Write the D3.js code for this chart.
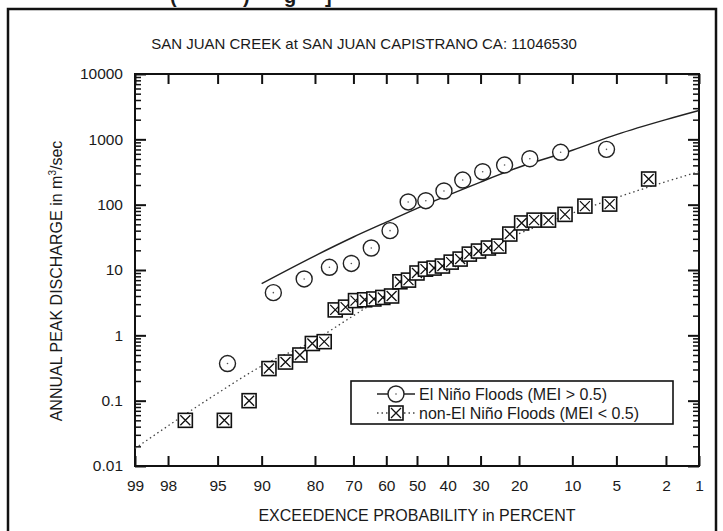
<!DOCTYPE html>
<html>
<head>
<meta charset="utf-8">
<script src="https://cdn.jsdelivr.net/npm/d3@7"></script>
<style>
  body { margin: 0; background: #fff; }
  text { font-family: "Liberation Sans", Arial, sans-serif; fill: #1a1a1a; }
  .axis path { display: none; }
  .axis line { stroke: #111; stroke-width: 2; }
  .minor line { stroke-width: 1.5; }
</style>
</head>
<body>
<div id="chart"></div>
<script>
// exceedence probability ticks (percent) and discharge ticks
var probTicks = [99, 98, 95, 90, 80, 70, 60, 50, 40, 30, 20, 10, 5, 2, 1];
var qTicks = [0.01, 0.1, 1, 10, 100, 1000, 10000];

// El Nino floods (MEI > 0.5)
var ninoProb = [94.1, 88.2, 82.4, 76.5, 70.6, 64.7, 58.8, 52.9, 47.1, 41.2, 35.3, 29.4, 23.5, 17.6, 11.8, 5.9];
var ninoQ = [0.37, 4.5, 7.3, 11, 12.6, 21.7, 40, 110, 115, 162, 238, 319, 404, 505, 633, 703];
// fitted curve, El Nino
var ninoFitProb = [90, 80, 70, 60, 50, 40, 30, 20, 10, 5, 2, 1];
var ninoFitQ = [6.2, 16.5, 32, 54, 88, 139, 222, 374, 680, 1180, 2000, 2760];

// non-El Nino floods (MEI < 0.5)
var nonProb = [97.2, 94.4, 91.7, 88.9, 86.1, 83.3, 80.6, 77.8, 75.0, 72.2, 69.4, 66.7, 63.9, 61.1, 58.3, 55.6, 52.8, 50.0,
               47.2, 44.4, 41.7, 38.9, 36.1, 33.3, 30.6, 27.8, 25.0, 22.2, 19.4, 16.7, 13.9, 11.1, 8.3, 5.6, 2.8];
var nonQ = [0.05, 0.05, 0.1, 0.31, 0.39, 0.5, 0.75, 0.8, 2.45, 2.7, 3.4, 3.5, 3.6, 3.8, 4.0, 6.6, 7.0, 9.0,
            10.3, 10.7, 11.5, 13.2, 14.7, 17.5, 19.5, 21.7, 23.2, 35.5, 52.5, 58, 58, 71, 95, 102, 247];
// fitted curve, non-El Nino
var nonFitProb = [99, 95, 90, 80, 70, 60, 50, 40, 30, 20, 10, 5, 2, 1];
var nonFitQ = [0.0186, 0.13, 0.34, 0.85, 2.0, 4.1, 7.1, 12, 20, 36, 74, 128, 225, 320];

function init(){
    var W = 723, H = 531;
    var left = 135, right = 699, top = 74, bottom = 466;

    // inverse standard normal (Acklam approximation), used for the probability axis
    function probit(p){
        var a = [-39.69683028665376, 220.9460984245205, -275.9285104469687, 138.3577518672690, -30.66479806614716, 2.506628277459239];
        var b = [-54.47609879822406, 161.5858368580409, -155.6989798598866, 66.80131188771972, -13.28068155288572];
        var c = [-0.007784894002430293, -0.3223964580411365, -2.400758277161838, -2.549732539343734, 4.374664141464968, 2.938163982698783];
        var d = [0.007784695709041462, 0.3224671290700398, 2.445134137142996, 3.754408661907416];
        var q, r;
        if (p < 0.02425) {
            q = Math.sqrt(-2 * Math.log(p));
            return (((((c[0]*q+c[1])*q+c[2])*q+c[3])*q+c[4])*q+c[5]) / ((((d[0]*q+d[1])*q+d[2])*q+d[3])*q+1);
        } else if (p > 1 - 0.02425) {
            q = Math.sqrt(-2 * Math.log(1 - p));
            return -(((((c[0]*q+c[1])*q+c[2])*q+c[3])*q+c[4])*q+c[5]) / ((((d[0]*q+d[1])*q+d[2])*q+d[3])*q+1);
        }
        q = p - 0.5; r = q * q;
        return (((((a[0]*r+a[1])*r+a[2])*r+a[3])*r+a[4])*r+a[5])*q / (((((b[0]*r+b[1])*r+b[2])*r+b[3])*r+b[4])*r+1);
    }

    var zScale = d3.scaleLinear()
        .domain([probit(0.01), probit(0.99)])
        .range([left, right]);
    var xScale = function(p){ return zScale(probit(1 - p / 100)); };

    var yScale = d3.scaleLog().domain([0.01, 10000]).range([bottom, top]);

    // axis scale for probability ticks (pass-through to xScale)
    var xAxisScale = function(p){ return xScale(p); };
    xAxisScale.domain = function(){ return [99, 1]; };
    xAxisScale.range = function(){ return [left, right]; };
    xAxisScale.copy = function(){ return xAxisScale; };
    xAxisScale.bandwidth = undefined;

    var svg = d3.select("#chart").append("svg")
        .attr("width", W).attr("height", H);

    // cut-off caption from the page above
    var cap = svg.append("text").attr("y", 3).style("font-weight", "bold").style("font-size", "20px");
    [["(", 170], [")", 243], ["g", 284], ["]", 325]].forEach(function(c){
        cap.append("tspan").attr("x", c[1]).text(c[0]);
    });

    // outer frame
    svg.append("rect")
        .attr("x", 8).attr("y", 9).attr("width", 708).attr("height", 540)
        .attr("fill", "none").attr("stroke", "#111").attr("stroke-width", 2.5);

    svg.append("text")
        .attr("x", 364).attr("y", 49)
        .attr("text-anchor", "middle")
        .style("font-size", "15px")
        .text("SAN JUAN CREEK at SAN JUAN CAPISTRANO CA: 11046530");

    // minor ticks for the log axis
    var minors = [];
    d3.range(-2, 4).forEach(function(e){
        d3.range(2, 10).forEach(function(m){ minors.push(m * Math.pow(10, e)); });
    });

    var xAxis = d3.axisBottom(xAxisScale).tickValues(probTicks)
        .tickSizeInner(-10).tickSizeOuter(0).tickPadding(14)
        .tickFormat(function(d){ return d; });
    svg.append("g").attr("class", "axis")
        .attr("transform", "translate(0," + bottom + ")")
        .call(xAxis)
        .selectAll("text").style("font-size", "15.5px");

    svg.append("g").attr("class", "axis")
        .attr("transform", "translate(0," + top + ")")
        .call(d3.axisTop(xAxisScale).tickValues(probTicks).tickSizeInner(-10).tickSizeOuter(0).tickFormat(""));

    var yAxis = d3.axisLeft(yScale).tickValues(qTicks)
        .tickSizeInner(-11).tickSizeOuter(0).tickPadding(12)
        .tickFormat(function(d){ return d3.format("~g")(d); });
    svg.append("g").attr("class", "axis")
        .attr("transform", "translate(" + left + ",0)")
        .call(yAxis)
        .selectAll("text").style("font-size", "15.5px");

    svg.append("g").attr("class", "axis minor")
        .attr("transform", "translate(" + left + ",0)")
        .call(d3.axisLeft(yScale).tickValues(minors).tickSizeInner(-6).tickSizeOuter(0).tickFormat(""));

    svg.append("g").attr("class", "axis")
        .attr("transform", "translate(" + right + ",0)")
        .call(d3.axisRight(yScale).tickValues(qTicks).tickSizeInner(-11).tickSizeOuter(0).tickFormat(""));

    svg.append("g").attr("class", "axis minor")
        .attr("transform", "translate(" + right + ",0)")
        .call(d3.axisRight(yScale).tickValues(minors).tickSizeInner(-6).tickSizeOuter(0).tickFormat(""));

    // plot frame
    svg.append("rect")
        .attr("x", left).attr("y", top)
        .attr("width", right - left).attr("height", bottom - top)
        .attr("fill", "none").attr("stroke", "#111").attr("stroke-width", 2);

    // axis titles
    svg.append("text")
        .attr("x", (left + right) / 2).attr("y", 521)
        .attr("text-anchor", "middle")
        .style("font-size", "16px")
        .text("EXCEEDENCE PROBABILITY in PERCENT");

    var yl = svg.append("text")
        .attr("transform", "translate(62,281) rotate(-90)")
        .attr("text-anchor", "middle")
        .style("font-size", "16px");
    yl.append("tspan").text("ANNUAL PEAK DISCHARGE in m");
    yl.append("tspan").attr("dy", -6).style("font-size", "10px").text("3");
    yl.append("tspan").attr("dy", 6).text("/sec");

    // fitted curves
    var line = d3.line()
        .x(function(d){ return xScale(d[0]); })
        .y(function(d){ return yScale(d[1]); })
        .curve(d3.curveMonotoneX);

    svg.append("path")
        .datum(ninoFitProb.map(function(p, i){ return [p, ninoFitQ[i]]; }))
        .attr("d", line)
        .attr("fill", "none").attr("stroke", "#222").attr("stroke-width", 1.4);

    svg.append("path")
        .datum(nonFitProb.map(function(p, i){ return [p, nonFitQ[i]]; }))
        .attr("d", line)
        .attr("fill", "none").attr("stroke", "#444").attr("stroke-width", 1.3)
        .attr("stroke-dasharray", "1.5,3");

    // symbol drawers
    function drawCircle(g, x, y){
        g.append("circle").attr("cx", x).attr("cy", y).attr("r", 8)
            .attr("fill", "#fff").attr("stroke", "#222").attr("stroke-width", 1.4);
        g.append("circle").attr("cx", x).attr("cy", y).attr("r", 0.8).attr("fill", "#555");
    }
    function drawBox(g, x, y){
        var s = 7;
        g.append("rect").attr("x", x - s).attr("y", y - s).attr("width", 2 * s).attr("height", 2 * s)
            .attr("fill", "#fff").attr("stroke", "#111").attr("stroke-width", 1.6);
        g.append("path")
            .attr("d", "M" + (x - s + 2) + "," + (y - s + 2) + "L" + (x + s - 2) + "," + (y + s - 2) +
                       "M" + (x + s - 2) + "," + (y - s + 2) + "L" + (x - s + 2) + "," + (y + s - 2))
            .attr("stroke", "#111").attr("stroke-width", 1.3);
    }

    var nonG = svg.append("g");
    nonProb.forEach(function(p, i){ drawBox(nonG, xScale(p), yScale(nonQ[i])); });

    var ninoG = svg.append("g");
    ninoProb.forEach(function(p, i){ drawCircle(ninoG, xScale(p), yScale(ninoQ[i])); });

    // legend
    var lg = svg.append("g");
    lg.append("rect").attr("x", 351).attr("y", 381).attr("width", 322).attr("height", 43)
        .attr("fill", "#fff").attr("stroke", "#111").attr("stroke-width", 1.6);
    lg.append("line").attr("x1", 377).attr("x2", 415).attr("y1", 394).attr("y2", 394)
        .attr("stroke", "#222").attr("stroke-width", 1.4);
    drawCircle(lg, 396, 394);
    lg.append("line").attr("x1", 377).attr("x2", 415).attr("y1", 413).attr("y2", 413)
        .attr("stroke", "#444").attr("stroke-width", 1.3).attr("stroke-dasharray", "1.5,3");
    drawBox(lg, 396, 413);
    lg.append("text").attr("x", 419).attr("y", 400).style("font-size", "16px").text("El Niño Floods (MEI > 0.5)");
    lg.append("text").attr("x", 419).attr("y", 419).style("font-size", "16px").text("non-El Niño Floods (MEI < 0.5)");
}
window.onload = init;
</script>
</body>
</html>
